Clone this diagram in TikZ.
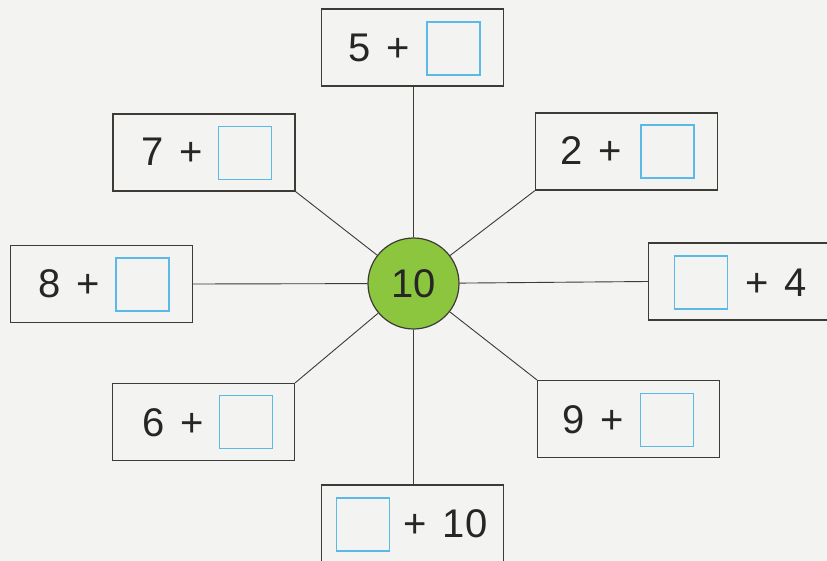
\documentclass[tikz,border=0pt]{standalone}
\usepackage{fontspec}
\setmainfont{Liberation Sans}
\definecolor{bg}{RGB}{243,243,241}
\definecolor{framec}{RGB}{62,58,54}
\definecolor{sq}{RGB}{90,185,230}
\definecolor{ball}{RGB}{140,198,63}
\newcommand{\gapsp}{\hspace{0.4em}}
\begin{document}
\begin{tikzpicture}[x=1pt,y=-1pt,
  box/.style={draw=framec,line width=1.2pt,minimum width=182pt,minimum height=77pt,inner sep=0pt},
  sqbox/.style={draw=sq,line width=1.2pt,minimum size=53pt,inner sep=0pt},
  lbl/.style={font=\fontsize{40}{42}\selectfont,text=black!85,inner sep=0pt},
  link/.style={draw=framec,line width=0.9pt}]
\fill[bg] (0,0) rectangle (827,561);
\useasboundingbox (0,0) rectangle (827,561);
\clip (0,0) rectangle (827,561);
% boxes
\node[box] (b5) at (412.5,47.5) {};
\node[box] (b7) at (204,152.5) {};
\node[box] (b2) at (626.5,151.5) {};
\node[box] (b8) at (101.5,284) {};
\node[box] (b4) at (739.5,281.5) {};
\node[box] (b6) at (203.5,422) {};
\node[box] (b9) at (628.5,419) {};
\node[box] (b10) at (412.5,523.5) {};
% squares
\node[sqbox] (s5) at (453.5,48.5) {};
\node[sqbox] (s7) at (245,153) {};
\node[sqbox] (s2) at (667.5,151.5) {};
\node[sqbox] (s8) at (142.5,284.5) {};
\node[sqbox] (s4) at (701,282.5) {};
\node[sqbox] (s6) at (246,422) {};
\node[sqbox] (s9) at (667,420) {};
\node[sqbox] (s10) at (363,524.5) {};
% texts
\node[lbl] (t5) at (379.5,48) {5\gapsp+};
\node[lbl] (t7) at (172.5,152) {7\gapsp+};
\node[lbl] (t2) at (591.5,150.5) {2\gapsp+};
\node[lbl] (t8) at (69,283.5) {8\gapsp+};
\node[lbl] (t6) at (173,422.5) {6\gapsp+};
\node[lbl] (t9) at (593.5,419.5) {9\gapsp+};
\node[lbl] (t4) at (776,283) {+\gapsp4};
\node[lbl] (t10) at (445.5,523.5) {+\gapsp10};
% centre
\node[circle,draw=framec,line width=1.2pt,fill=ball,minimum size=91pt,inner sep=0pt,
      font=\fontsize{40}{42}\selectfont,text=black!85] (c) at (413.5,283.5) {10};
% connectors
\draw[link] (c) -- (c |- b5.south);
\draw[link] (c) -- (c |- b10.north);
\draw[link] (c) -- (b8.east);
\draw[link] (c) -- (b4.west);
\draw[link] (c) -- (b7.south east);
\draw[link] (c) -- (b2.south west);
\draw[link] (c) -- (b6.north east);
\draw[link] (c) -- (b9.north west);
\end{tikzpicture}
\end{document}
